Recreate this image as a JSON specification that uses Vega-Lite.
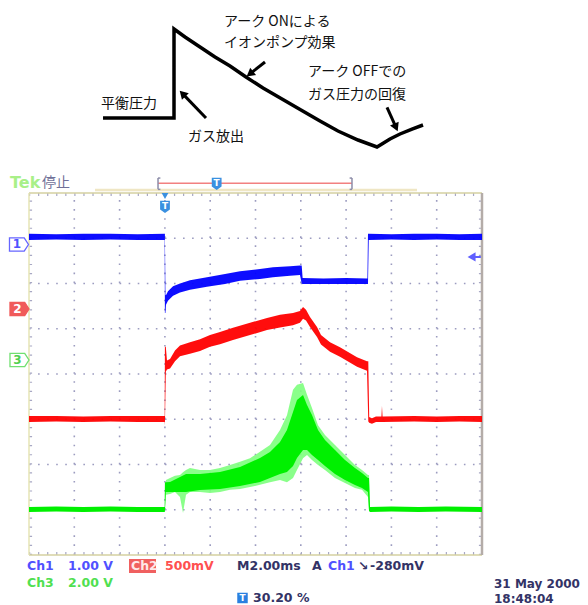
{
"$schema":"https://vega.github.io/schema/vega-lite/v6.json",
"width":588,"height":605,"padding":0,"autosize":{"type":"none"},
"background":"#ffffff",
"config":{"view":{"stroke":null}},
"datasets":{
"grid":[{"x":1,"y":0,"x2":1,"y2":8},{"x":2,"y":0,"x2":2,"y2":8},{"x":3,"y":0,"x2":3,"y2":8},{"x":4,"y":0,"x2":4,"y2":8},{"x":5,"y":0,"x2":5,"y2":8},{"x":6,"y":0,"x2":6,"y2":8},{"x":7,"y":0,"x2":7,"y2":8},{"x":8,"y":0,"x2":8,"y2":8},{"x":9,"y":0,"x2":9,"y2":8},
{"x":0,"y":1,"x2":10,"y2":1},{"x":0,"y":2,"x2":10,"y2":2},{"x":0,"y":3,"x2":10,"y2":3},{"x":0,"y":4,"x2":10,"y2":4},{"x":0,"y":5,"x2":10,"y2":5},{"x":0,"y":6,"x2":10,"y2":6},{"x":0,"y":7,"x2":10,"y2":7}],
"ticks":[{"x":0,"y":7.965,"x2":10,"y2":7.965},{"x":0,"y":0.035,"x2":10,"y2":0.035},{"x":0.035,"y":0,"x2":0.035,"y2":8},{"x":9.965,"y":0,"x2":9.965,"y2":8}],
"frame":[{"x":0,"y":8,"x2":10,"y2":8,"c":"#d4d0a0","w":1.5},{"x":0,"y":0,"x2":10,"y2":0,"c":"#d4d0a0","w":1.5},{"x":0,"y":0,"x2":0,"y2":8,"c":"#e6e4b4","w":1.5},{"x":10,"y":0,"x2":10,"y2":8,"c":"#b4aca8","w":2.5},
{"x":1.457,"y":8.066,"x2":8.565,"y2":8.066,"c":"#efe6c4","w":2.5},
{"x":2.848,"y":8.214,"x2":7.13,"y2":8.214,"c":"#f28080","w":1.5},
{"x":2.848,"y":8.08,"x2":2.848,"y2":8.33,"c":"#8c8ca8","w":1.5},{"x":2.848,"y":8.33,"x2":2.9,"y2":8.33,"c":"#8c8ca8","w":1.5},{"x":2.848,"y":8.08,"x2":2.9,"y2":8.08,"c":"#8c8ca8","w":1.5},
{"x":7.13,"y":8.08,"x2":7.13,"y2":8.33,"c":"#8c8ca8","w":1.5},{"x":7.078,"y":8.33,"x2":7.13,"y2":8.33,"c":"#8c8ca8","w":1.5},{"x":7.078,"y":8.08,"x2":7.13,"y2":8.08,"c":"#8c8ca8","w":1.5},
{"x":9.80,"y":6.586,"x2":9.975,"y2":6.586,"c":"#6060ff","w":2}],
"greenOuter":[{"x":3.0,"y":0.98,"y2":1.35},{"x":3.024,"y":1.33,"y2":1.66},{"x":3.113,"y":1.35,"y2":1.70},{"x":3.223,"y":1.39,"y2":1.75},{"x":3.333,"y":1.28,"y2":1.77},{"x":3.4,"y":0.93,"y2":1.83},{"x":3.466,"y":1.33,"y2":1.88},{"x":3.554,"y":1.39,"y2":1.92},{"x":3.775,"y":1.39,"y2":1.88},{"x":3.996,"y":1.37,"y2":1.88},{"x":4.216,"y":1.39,"y2":1.92},{"x":4.437,"y":1.44,"y2":1.99},{"x":4.658,"y":1.46,"y2":2.06},{"x":4.879,"y":1.50,"y2":2.14},{"x":5.099,"y":1.55,"y2":2.28},{"x":5.32,"y":1.61,"y2":2.43},{"x":5.541,"y":1.66,"y2":2.76},{"x":5.695,"y":1.61,"y2":3.09},{"x":5.828,"y":1.70,"y2":3.65},{"x":5.916,"y":1.88,"y2":3.76},{"x":6.049,"y":2.14,"y2":3.80},{"x":6.137,"y":2.21,"y2":3.54},{"x":6.247,"y":2.10,"y2":3.25},{"x":6.38,"y":1.99,"y2":2.87},{"x":6.534,"y":1.88,"y2":2.65},{"x":6.755,"y":1.70,"y2":2.43},{"x":6.976,"y":1.59,"y2":2.21},{"x":7.196,"y":1.48,"y2":1.99},{"x":7.351,"y":1.44,"y2":1.88},{"x":7.483,"y":1.28,"y2":1.77},{"x":7.506,"y":0.99,"y2":1.77},{"x":7.528,"y":0.98,"y2":1.05}],
"green":[{"x":0,"y":0.95,"y2":1.06},{"x":0.6,"y":0.96,"y2":1.07},{"x":1.2,"y":0.95,"y2":1.06},{"x":1.8,"y":0.96,"y2":1.07},{"x":2.4,"y":0.95,"y2":1.06},{"x":2.995,"y":0.95,"y2":1.06},
{"x":3.0,"y":0.96,"y2":1.61},{"x":3.02,"y":1.39,"y2":1.61},{"x":3.113,"y":1.392,"y2":1.613},{"x":3.466,"y":1.392,"y2":1.79},{"x":3.775,"y":1.436,"y2":1.79},{"x":4.216,"y":1.459,"y2":1.834},{"x":4.658,"y":1.525,"y2":1.945},{"x":5.099,"y":1.613,"y2":2.144},{"x":5.32,"y":1.702,"y2":2.276},{"x":5.541,"y":1.79,"y2":2.497},{"x":5.695,"y":1.834,"y2":2.762},{"x":5.828,"y":1.967,"y2":3.16},{"x":5.916,"y":2.144,"y2":3.425},{"x":6.049,"y":2.32,"y2":3.536},{"x":6.137,"y":2.32,"y2":3.315},{"x":6.247,"y":2.21,"y2":3.094},{"x":6.38,"y":2.099,"y2":2.762},{"x":6.534,"y":1.967,"y2":2.541},{"x":6.755,"y":1.79,"y2":2.32},{"x":6.976,"y":1.657,"y2":2.099},{"x":7.196,"y":1.547,"y2":1.923},{"x":7.351,"y":1.481,"y2":1.812},{"x":7.483,"y":1.392,"y2":1.702},{"x":7.506,"y":0.97,"y2":1.70},{"x":7.528,"y":0.95,"y2":1.06},
{"x":8.0,"y":0.96,"y2":1.07},{"x":8.6,"y":0.95,"y2":1.06},{"x":9.2,"y":0.96,"y2":1.07},{"x":10,"y":0.95,"y2":1.06}],
"red":[{"x":0,"y":2.94,"y2":3.07},{"x":0.6,"y":2.95,"y2":3.07},{"x":1.2,"y":2.94,"y2":3.06},{"x":1.8,"y":2.95,"y2":3.07},{"x":2.4,"y":2.94,"y2":3.07},{"x":2.995,"y":2.94,"y2":3.07},
{"x":3.0,"y":2.87,"y2":4.60},{"x":3.02,"y":4.05,"y2":4.60},{"x":3.046,"y":4.10,"y2":4.30},{"x":3.113,"y":4.12,"y2":4.33},{"x":3.223,"y":4.28,"y2":4.52},{"x":3.333,"y":4.39,"y2":4.63},{"x":3.554,"y":4.45,"y2":4.70},{"x":3.775,"y":4.51,"y2":4.77},{"x":3.996,"y":4.60,"y2":4.86},{"x":4.216,"y":4.66,"y2":4.93},{"x":4.503,"y":4.75,"y2":5.02},{"x":4.879,"y":4.86,"y2":5.13},{"x":5.254,"y":4.97,"y2":5.24},{"x":5.541,"y":5.03,"y2":5.31},{"x":5.828,"y":5.08,"y2":5.35},{"x":5.982,"y":5.13,"y2":5.39},{"x":6.049,"y":5.22,"y2":5.48},{"x":6.115,"y":5.18,"y2":5.42},{"x":6.203,"y":5.04,"y2":5.26},{"x":6.358,"y":4.82,"y2":5.04},{"x":6.446,"y":4.65,"y2":4.86},{"x":6.645,"y":4.49,"y2":4.70},{"x":6.865,"y":4.38,"y2":4.59},{"x":7.241,"y":4.16,"y2":4.37},{"x":7.461,"y":4.07,"y2":4.28},
{"x":7.49,"y":2.95,"y2":4.28},{"x":7.51,"y":2.92,"y2":3.05},{"x":7.57,"y":2.90,"y2":3.02},{"x":7.66,"y":2.94,"y2":3.06},{"x":7.78,"y":2.94,"y2":3.06},{"x":7.792,"y":2.94,"y2":3.29},{"x":7.805,"y":2.94,"y2":3.06},{"x":8.5,"y":2.95,"y2":3.07},{"x":9.0,"y":2.94,"y2":3.06},{"x":9.5,"y":2.95,"y2":3.07},{"x":10,"y":2.94,"y2":3.07}],
"blue":[{"x":0,"y":6.96,"y2":7.10},{"x":0.6,"y":6.97,"y2":7.09},{"x":1.2,"y":6.96,"y2":7.10},{"x":1.8,"y":6.97,"y2":7.10},{"x":2.4,"y":6.96,"y2":7.09},{"x":2.995,"y":6.96,"y2":7.10},
{"x":3.0,"y":5.35,"y2":7.10},{"x":3.012,"y":5.35,"y2":5.75},{"x":3.024,"y":5.53,"y2":5.74},{"x":3.068,"y":5.62,"y2":5.83},{"x":3.179,"y":5.73,"y2":5.94},{"x":3.333,"y":5.80,"y2":6.00},{"x":3.554,"y":5.86,"y2":6.07},{"x":3.929,"y":5.93,"y2":6.14},{"x":4.327,"y":5.99,"y2":6.21},{"x":4.658,"y":6.06,"y2":6.27},{"x":5.099,"y":6.10,"y2":6.32},{"x":5.386,"y":6.14,"y2":6.36},{"x":5.762,"y":6.17,"y2":6.38},{"x":5.982,"y":6.19,"y2":6.40},
{"x":6.02,"y":6.00,"y2":6.40},{"x":6.04,"y":5.99,"y2":6.12},{"x":6.5,"y":5.99,"y2":6.11},{"x":7.0,"y":5.99,"y2":6.12},{"x":7.47,"y":5.99,"y2":6.11},{"x":7.483,"y":5.99,"y2":7.10},{"x":7.5,"y":6.96,"y2":7.10},{"x":8.0,"y":6.97,"y2":7.09},{"x":8.5,"y":6.96,"y2":7.10},{"x":9.0,"y":6.97,"y2":7.10},{"x":9.5,"y":6.96,"y2":7.09},{"x":10,"y":6.96,"y2":7.10}],
"sch":[{"i":1,"x":1.634,"y":9.657},{"i":2,"x":3.201,"y":9.657},{"i":3,"x":3.201,"y":11.624},{"i":4,"x":3.444,"y":11.448},{"i":5,"x":3.775,"y":11.227},{"i":6,"x":4.106,"y":11.006},{"i":7,"x":4.437,"y":10.807},{"i":8,"x":4.79,"y":10.564},{"i":9,"x":5.166,"y":10.32},{"i":10,"x":5.585,"y":10.077},{"i":11,"x":6.004,"y":9.834},{"i":12,"x":6.424,"y":9.591},{"i":13,"x":6.821,"y":9.37},{"i":14,"x":7.263,"y":9.171},{"i":15,"x":7.682,"y":9.017},{"i":16,"x":7.969,"y":9.193},{"i":17,"x":8.19,"y":9.304},{"i":18,"x":8.455,"y":9.414},{"i":19,"x":8.698,"y":9.503}],
"arrows":[{"x":5.21,"y":10.895,"x2":4.876,"y2":10.632,"ang":232},{"x":3.907,"y":9.657,"x2":3.389,"y2":10.196,"ang":316},{"x":7.903,"y":9.89,"x2":8.102,"y2":9.45,"ang":156}],
"jp":[{"x":4.305,"y":11.779,"t":"アーク ONによる"},{"x":4.305,"y":11.315,"t":"イオンポンプ効果"},{"x":6.159,"y":10.674,"t":"アーク OFFでの"},{"x":6.159,"y":10.166,"t":"ガス圧力の回復"},{"x":1.589,"y":9.967,"t":"平衡圧力"},{"x":3.51,"y":9.238,"t":"ガス放出"}],
"ro":[{"x":-0.044,"y":-0.254,"t":"Ch1","c":"#5050ff"},{"x":0.861,"y":-0.254,"t":"1.00 V","c":"#5050ff"},{"x":2.252,"y":-0.254,"t":"Ch2","c":"#ffe8e8"},{"x":3.002,"y":-0.254,"t":"500mV","c":"#ff5050"},{"x":4.592,"y":-0.254,"t":"M2.00ms","c":"#333366"},{"x":6.247,"y":-0.254,"t":"A","c":"#333366"},{"x":6.6,"y":-0.254,"t":"Ch1","c":"#5050ff"},{"x":7.263,"y":-0.254,"t":"↘","c":"#333366"},{"x":7.528,"y":-0.254,"t":"-280mV","c":"#333366"},
{"x":-0.044,"y":-0.608,"t":"Ch3","c":"#50e050"},{"x":0.861,"y":-0.608,"t":"2.00 V","c":"#50e050"},{"x":4.945,"y":-0.95,"t":"30.20 %","c":"#333366"}],
"stamp":[{"x":10.265,"y":-0.63,"t":"31 May 2000"},{"x":10.265,"y":-0.965,"t":"18:48:04"}],
"chbox":[{"x":2.208,"x2":2.804,"y":-0.088,"y2":-0.398}],
"markers":[{"x":-0.221,"y":6.862,"f":"#ffffff","s":"#6666ff","t":"1","tc":"#5050ff"},{"x":-0.21,"y":5.436,"f":"#f05a5a","s":"#f05a5a","t":"2","tc":"#ffffff"},{"x":-0.21,"y":4.309,"f":"#ffffff","s":"#70e070","t":"3","tc":"#50d050"}],
"shield":[{"x":3.002,"y":7.691},{"x":4.143,"y":8.199}],
"tri":[{"x":3.002,"y":7.934}],
"sq":[{"x":4.713,"y":-0.95}],
"rarrow":[{"x":9.77,"y":6.586}]
},
"encoding":{
"x":{"field":"x","type":"quantitative","scale":{"domain":[-0.6402,12.34],"nice":false,"zero":false},"axis":null},
"y":{"field":"y","type":"quantitative","scale":{"domain":[-1.105,12.265],"nice":false,"zero":false},"axis":null}
},
"layer":[
{"data":{"name":"grid"},"mark":{"type":"rule","color":"#9c9cc0","strokeWidth":1.6,"strokeDash":[1.6,7.46]},"encoding":{"x2":{"field":"x2"},"y2":{"field":"y2"}}},
{"data":{"name":"ticks"},"mark":{"type":"rule","color":"#a8a8c4","strokeWidth":3,"strokeDash":[1.2,7.86]},"encoding":{"x2":{"field":"x2"},"y2":{"field":"y2"}}},
{"data":{"name":"frame"},"mark":{"type":"rule"},"encoding":{"x2":{"field":"x2"},"y2":{"field":"y2"},"color":{"field":"c","type":"nominal","scale":null},"strokeWidth":{"field":"w","type":"quantitative","scale":null}}},
{"data":{"name":"greenOuter"},"mark":{"type":"area","color":"#7dff7d","opacity":0.9},"encoding":{"y2":{"field":"y2"}}},
{"data":{"name":"green"},"mark":{"type":"area","color":"#00f000","opacity":1},"encoding":{"y2":{"field":"y2"}}},
{"data":{"name":"red"},"mark":{"type":"area","color":"#ff0000","opacity":0.95},"encoding":{"y2":{"field":"y2"}}},
{"data":{"name":"blue"},"mark":{"type":"area","color":"#0000ff","opacity":0.95},"encoding":{"y2":{"field":"y2"}}},
{"data":{"name":"sch"},"mark":{"type":"line","color":"#000000","strokeWidth":3.5,"strokeJoin":"miter"},"encoding":{"order":{"field":"i","type":"quantitative"}}},
{"data":{"name":"arrows"},"mark":{"type":"rule","color":"#000000","strokeWidth":3},"encoding":{"x2":{"field":"x2"},"y2":{"field":"y2"}}},
{"data":{"name":"arrows"},"mark":{"type":"point","shape":"triangle-up","filled":true,"color":"#000000","size":90,"opacity":1},"encoding":{"x":{"field":"x2","type":"quantitative"},"y":{"field":"y2","type":"quantitative"},"angle":{"field":"ang","type":"quantitative","scale":null}}},
{"data":{"name":"jp"},"mark":{"type":"text","font":"Noto Sans CJK JP","fontSize":14,"align":"left","baseline":"middle","color":"#111111"},"encoding":{"text":{"field":"t"}}},
{"data":{"name":"chbox"},"mark":{"type":"rect","color":"#f06060"},"encoding":{"x2":{"field":"x2"},"y2":{"field":"y2"}}},
{"data":{"name":"ro"},"mark":{"type":"text","font":"DejaVu Sans","fontWeight":"bold","fontSize":12.5,"align":"left","baseline":"middle"},"encoding":{"text":{"field":"t"},"color":{"field":"c","type":"nominal","scale":null}}},
{"data":{"name":"stamp"},"mark":{"type":"text","font":"DejaVu Sans","fontWeight":"bold","fontSize":12,"align":"left","baseline":"middle","color":"#333366"},"encoding":{"text":{"field":"t"}}},
{"data":{"name":"markers"},"mark":{"type":"point","shape":"M -1 -0.7 L 0.55 -0.7 L 1 0 L 0.55 0.7 L -1 0.7 Z","size":361,"filled":true,"strokeWidth":1.3,"opacity":1},"encoding":{"fill":{"field":"f","type":"nominal","scale":null},"stroke":{"field":"s","type":"nominal","scale":null}}},
{"data":{"name":"markers"},"mark":{"type":"text","font":"DejaVu Sans","fontWeight":"bold","fontSize":12,"align":"center","baseline":"middle","dx":-2},"encoding":{"text":{"field":"t"},"color":{"field":"tc","type":"nominal","scale":null}}},
{"data":{"name":"shield"},"mark":{"type":"point","shape":"M -0.8 -1 L 0.8 -1 L 0.8 0.4 L 0 1 L -0.8 0.4 Z","size":150,"filled":true,"color":"#3a90e0","opacity":1}},
{"data":{"name":"shield"},"mark":{"type":"text","text":"T","font":"DejaVu Sans","fontWeight":"bold","fontSize":9,"align":"center","baseline":"middle","color":"#ffffff","dy":-1}},
{"data":{"name":"tri"},"mark":{"type":"point","shape":"triangle-down","size":45,"filled":true,"color":"#3a90e0","opacity":1}},
{"data":{"name":"sq"},"mark":{"type":"point","shape":"square","size":110,"filled":true,"color":"#2a80e0","opacity":1}},
{"data":{"name":"sq"},"mark":{"type":"text","text":"T","font":"DejaVu Sans","fontWeight":"bold","fontSize":9,"align":"center","baseline":"middle","color":"#ffffff"}},
{"data":{"name":"rarrow"},"mark":{"type":"point","shape":"triangle-left","size":85,"filled":true,"color":"#6060ff","opacity":1}},
{"data":{"values":[{"x":-0.419,"y":8.221,"t":"Tek"}]},"mark":{"type":"text","font":"DejaVu Sans","fontWeight":"bold","fontSize":16,"align":"left","baseline":"middle","color":"#a8f088"},"encoding":{"text":{"field":"t"}}},
{"data":{"values":[{"x":0.287,"y":8.221,"t":"停止"}]},"mark":{"type":"text","font":"Noto Sans CJK JP","fontSize":14,"align":"left","baseline":"middle","color":"#707098"},"encoding":{"text":{"field":"t"}}}
]
}
